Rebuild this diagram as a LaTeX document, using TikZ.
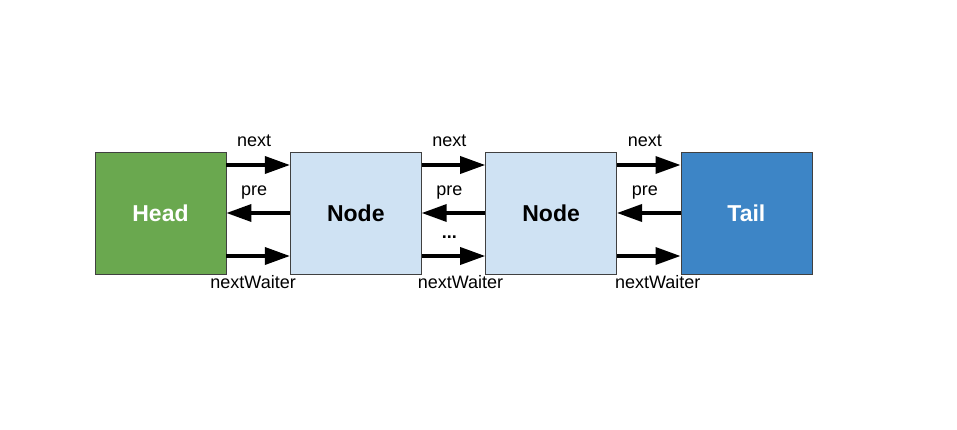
\documentclass[tikz,border=0pt]{standalone}
\usepackage{fontspec}
\setmainfont{Liberation Sans}
\usetikzlibrary{positioning,arrows.meta}
\definecolor{headgreen}{HTML}{6AA84F}
\definecolor{nodeblue}{HTML}{CFE2F3}
\definecolor{tailblue}{HTML}{3D85C6}

\begin{document}
\begin{tikzpicture}[node distance=195.3pt,on grid,
   box/.style={draw=black!75,line width=0.8pt,minimum width=131pt,minimum height=122pt,
     font=\fontsize{23}{27}\selectfont\bfseries},
   arr/.style={-{Triangle[length=25pt,width=17pt]},line width=3.5pt},
   lblup/.style={anchor=base,yshift=18pt,xshift=-4pt,font=\fontsize{18}{21}\selectfont},
   lbldown/.style={anchor=base,yshift=-32pt,font=\fontsize{18}{21}\selectfont}]
   \useasboundingbox (0,0) rectangle (957pt,429pt);
   \node [box,fill=headgreen,text=white] (head) at (160.5pt,216pt) {Head};
   \node [box,fill=nodeblue, right=of head] (node1) {Node};
   \node [box,fill=nodeblue, right=of node1] (node2) {Node};
   \node [box,fill=tailblue,text=white, right=of node2] (tail) {Tail};
   % next / pre / nextWaiter between neighbours
   \draw[arr] ([yshift=48pt]head.east) -- node[lblup] {next} ([yshift=48pt]node1.west);
   \draw[arr] (node1.west) -- node[lblup] {pre} (head.east);
   \draw[arr] ([yshift=-43pt]head.east) -- node[lbldown,xshift=-5pt] {nextWaiter} ([yshift=-43pt]node1.west);
   \draw[arr] ([yshift=48pt]node1.east) -- node[lblup] {next} ([yshift=48pt]node2.west);
   \draw[arr] (node2.west) -- node[lblup] {pre} (node1.east);
   \draw[arr] ([yshift=-43pt]node1.east) -- node[lblup,font=\fontsize{18}{21}\selectfont\bfseries] {...}
     node[lbldown,xshift=7pt] {nextWaiter} ([yshift=-43pt]node2.west);
   \draw[arr] ([yshift=48pt]node2.east) -- node[lblup] {next} ([yshift=48pt]tail.west);
   \draw[arr] (tail.west) -- node[lblup] {pre} (node2.east);
   \draw[arr] ([yshift=-43pt]node2.east) -- node[lbldown,xshift=9pt] {nextWaiter} ([yshift=-43pt]tail.west);
\end{tikzpicture}
\end{document}
